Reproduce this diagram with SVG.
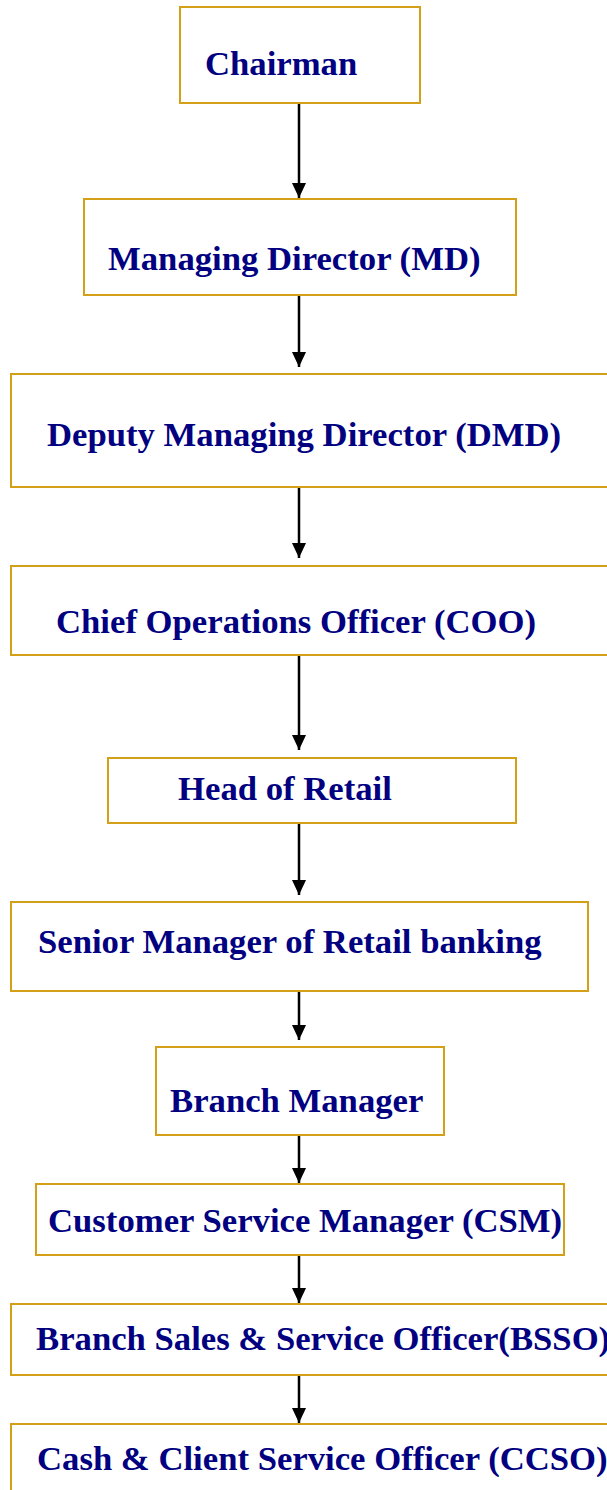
<svg xmlns="http://www.w3.org/2000/svg" width="607" height="1490" viewBox="0 0 607 1490">
  <style>
    .box { fill: #ffffff; stroke: #D4A017; stroke-width: 2; }
    .label { font-family: "Liberation Serif", Tinos, "Times New Roman", serif; font-weight: 700; font-size: 34.7px; fill: #000080; }
    .link { stroke: #000000; stroke-width: 2.5; fill: none; marker-end: url(#arrow); }
  </style>
  <defs>
    <!-- arrowhead drawn along +x so orient="auto" points it down the line -->
    <marker id="arrow" viewBox="0 0 15 14" refX="15" refY="7" markerWidth="15" markerHeight="14" markerUnits="userSpaceOnUse" orient="auto">
      <path d="M0,0 L15,7 L0,14 Z" fill="#000000"/>
    </marker>
  </defs>
  <rect width="607" height="1490" fill="#ffffff"/>

  <g id="connectors">
    <line class="link" x1="299" y1="103" x2="299" y2="198"/>
    <line class="link" x1="299" y1="295" x2="299" y2="367"/>
    <line class="link" x1="299" y1="487" x2="299" y2="558"/>
    <line class="link" x1="299" y1="655" x2="299" y2="750"/>
    <line class="link" x1="299" y1="823" x2="299" y2="895"/>
    <line class="link" x1="299" y1="991" x2="299" y2="1040"/>
    <line class="link" x1="299" y1="1135" x2="299" y2="1183"/>
    <line class="link" x1="299" y1="1255" x2="299" y2="1303"/>
    <line class="link" x1="299" y1="1375" x2="299" y2="1423"/>
  </g>

  <g id="chairman">
    <rect class="box" x="180" y="7" width="240" height="96"/>
    <text class="label" x="205" y="75">Chairman</text>
  </g>
  <g id="md">
    <rect class="box" x="84" y="199" width="432" height="96"/>
    <text class="label" x="108" y="270">Managing Director (MD)</text>
  </g>
  <g id="dmd">
    <rect class="box" x="11" y="374" width="620" height="113"/>
    <text class="label" x="47" y="446">Deputy Managing Director (DMD)</text>
  </g>
  <g id="coo">
    <rect class="box" x="11" y="566" width="620" height="89"/>
    <text class="label" x="56" y="633">Chief Operations Officer (COO)</text>
  </g>
  <g id="head-retail">
    <rect class="box" x="108" y="758" width="408" height="65"/>
    <text class="label" x="178" y="800">Head of Retail</text>
  </g>
  <g id="senior-manager">
    <rect class="box" x="11" y="902" width="577" height="89"/>
    <text class="label" x="38" y="953">Senior Manager of Retail banking</text>
  </g>
  <g id="branch-manager">
    <rect class="box" x="156" y="1047" width="288" height="88"/>
    <text class="label" x="170" y="1112">Branch Manager</text>
  </g>
  <g id="csm">
    <rect class="box" x="36" y="1184" width="528" height="71"/>
    <text class="label" x="48" y="1232">Customer Service Manager (CSM)</text>
  </g>
  <g id="bsso">
    <rect class="box" x="11" y="1304" width="620" height="71"/>
    <text class="label" x="36" y="1350">Branch Sales &amp; Service Officer(BSSO)</text>
  </g>
  <g id="ccso">
    <rect class="box" x="11" y="1424" width="620" height="90"/>
    <text class="label" x="37" y="1470">Cash &amp; Client Service Officer (CCSO)</text>
  </g>
</svg>
